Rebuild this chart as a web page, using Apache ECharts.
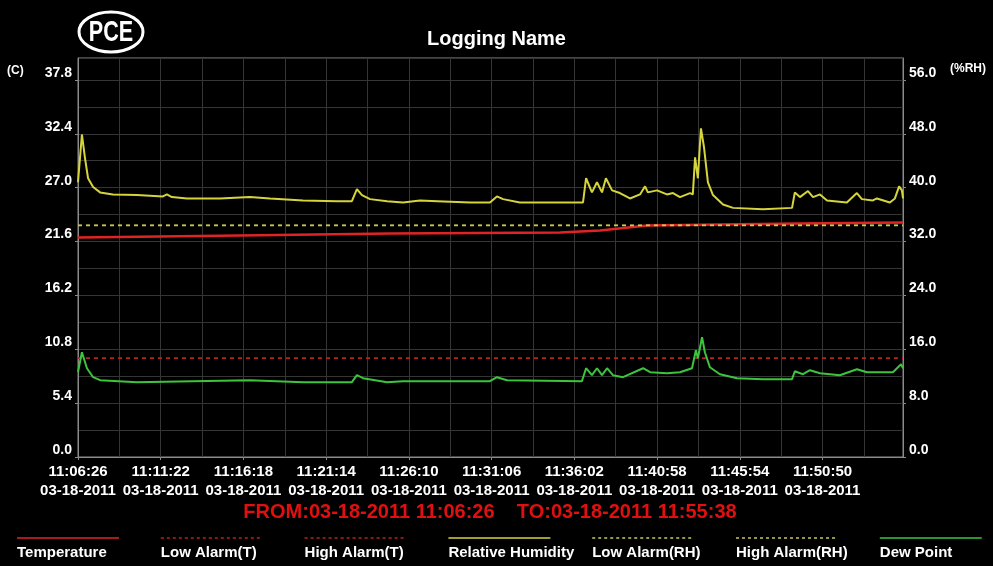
<!DOCTYPE html>
<html>
<head>
<meta charset="utf-8">
<title>Logging Name</title>
<script src="https://cdn.jsdelivr.net/npm/echarts@6/dist/echarts.min.js"></script>
<style>
    html, body { margin: 0; padding: 0; background: #000; }
    #main { width: 993px; height: 566px; }
</style>
</head>
<body>
<div id="main"></div>
<script>
/* 记录信息 */
var logDate = '03-18-2011';
var startTime = '11:06:26';
var endTime = '11:55:38';
var spanSec = 2952;      // 11:06:26 -> 11:55:38
var tickStep = 296;      // 时间刻度间隔(秒)

/* 相对湿度 (%RH), 时间为距开始的秒数 */
var rhTime = [0, 14, 25, 36, 54, 79, 125, 211, 304, 318, 336, 390, 508, 615, 687, 805, 927, 980, 998, 1016,
    1045, 1106, 1163, 1224, 1285, 1403, 1474, 1499, 1521, 1581, 1807, 1818, 1839, 1857, 1875, 1889, 1911, 1939, 1975, 2011,
    2029, 2039, 2072, 2107, 2129, 2154, 2190, 2200, 2208, 2218, 2229, 2240, 2254, 2272, 2308, 2344, 2451, 2555, 2565, 2583,
    2612, 2630, 2655, 2680, 2751, 2787, 2805, 2844, 2859, 2905, 2923, 2938, 2948, 2952];
var rhValue = [40.8, 47.9, 44.4, 41.4, 40.1, 39.3, 39.0, 38.9, 38.7, 39.0, 38.6, 38.4, 38.4, 38.6, 38.4, 38.1, 38.0, 38.0, 39.8, 38.9,
    38.3, 38.0, 37.8, 38.1, 38.0, 37.8, 37.8, 38.7, 38.3, 37.8, 37.8, 41.4, 39.3, 40.8, 39.3, 41.4, 39.6, 39.2, 38.4, 39.0,
    40.2, 39.3, 39.6, 39.0, 39.2, 38.6, 39.2, 39.0, 44.5, 41.4, 48.8, 46.0, 40.8, 38.9, 37.5, 37.0, 36.8, 37.0, 39.3, 38.6,
    39.5, 38.6, 39.0, 38.1, 37.8, 39.2, 38.3, 38.1, 38.4, 37.8, 38.4, 40.2, 39.6, 38.4];

/* 露点 (C) */
var dewTime = [0, 14, 32, 54, 79, 211, 411, 615, 805, 980, 998, 1020, 1106, 1163, 1285, 1474, 1499, 1535, 1803, 1818,
    1839, 1857, 1875, 1893, 1914, 1950, 2022, 2047, 2107, 2154, 2197, 2211, 2218, 2233, 2243, 2261, 2297, 2358, 2451, 2555,
    2565, 2594, 2619, 2655, 2726, 2787, 2823, 2916, 2945, 2952];
var dewValue = [8.5, 10.5, 8.9, 8.0, 7.7, 7.5, 7.6, 7.7, 7.5, 7.5, 8.2, 7.9, 7.5, 7.6, 7.6, 7.6, 8.0, 7.7, 7.6, 8.9,
    8.2, 8.9, 8.2, 8.9, 8.2, 8.0, 8.9, 8.5, 8.4, 8.5, 8.9, 10.7, 9.9, 12.0, 10.5, 9.0, 8.3, 7.9, 7.8, 7.8,
    8.6, 8.3, 8.7, 8.4, 8.2, 8.8, 8.5, 8.5, 9.3, 8.9];

/* 温度 (C) */
var tempTime = [0, 580, 1116, 1725, 1868, 2036, 2297, 2583, 2952];
var tempValue = [22.0, 22.2, 22.4, 22.5, 22.7, 23.2, 23.3, 23.4, 23.5];

/* 报警线 */
var alarmTime = [0, 2952];
var lowAlarmT = [9.9, 9.9];
var highAlarmT = [9.9, 9.9];
var lowAlarmRH = [34.4, 34.4];
var highAlarmRH = [34.4, 34.4];

/* 图例名称 */
var legendNames = ['Temperature', 'Low Alarm(T)', 'High Alarm(T)', 'Relative Humidity', 'Low Alarm(RH)', 'High Alarm(RH)', 'Dew Point'];

var fontFamily = '"Liberation Sans", Arial, sans-serif';
var gridColor = '#353535';

function toSec(s) {
    var p = s.split(':');
    return (+p[0]) * 3600 + (+p[1]) * 60 + (+p[2]);
}
function toClock(sec) {
    var h = Math.floor(sec / 3600), m = Math.floor(sec / 60) % 60, s = sec % 60;
    return [h, m, s].map(function (n) { return (n < 10 ? '0' : '') + n; }).join(':');
}
function pairs(t, v) {
    return t.map(function (x, i) { return [x, v[i]]; });
}

var startSec = toSec(startTime);

/* 各数据系列的线型 */
var seriesDefs = [
    { name: legendNames[0], t: tempTime, v: tempValue, axis: 0, color: '#e02424', type: 'solid', width: 2.5 },
    { name: legendNames[1], t: alarmTime, v: lowAlarmT, axis: 0, color: '#b82020', type: [4, 4], width: 1.5 },
    { name: legendNames[2], t: alarmTime, v: highAlarmT, axis: 0, color: '#b82020', type: [4, 4], width: 1.5 },
    { name: legendNames[3], t: rhTime, v: rhValue, axis: 1, color: '#d6d43c', type: 'solid', width: 2 },
    { name: legendNames[4], t: alarmTime, v: lowAlarmRH, axis: 1, color: '#c8c658', type: [4, 4], width: 1.5 },
    { name: legendNames[5], t: alarmTime, v: highAlarmRH, axis: 1, color: '#c8c658', type: [4, 4], width: 1.5 },
    { name: legendNames[6], t: dewTime, v: dewValue, axis: 0, color: '#3cc43c', type: 'solid', width: 2 }
];

var series = seriesDefs.map(function (d) {
    return {
        name: d.name,
        type: 'line',
        yAxisIndex: d.axis,
        symbol: 'none',
        silent: true,
        animation: false,
        lineStyle: { color: d.color, width: d.width, type: d.type },
        data: pairs(d.t, d.v)
    };
});

/* 底部图例: 线在上, 文字在下 */
var legendGraphics = [];
seriesDefs.forEach(function (d, i) {
    var left = 17 + i * 143.8;
    legendGraphics.push({
        type: 'line',
        shape: { x1: left, y1: 538, x2: left + 102, y2: 538 },
        style: { stroke: d.color, lineWidth: 1.5, lineDash: d.type === 'solid' ? null : [3, 3] }
    });
    legendGraphics.push({
        type: 'text',
        x: left, y: 553,
        style: { text: d.name, fill: '#fff', font: 'bold 15px ' + fontFamily, textVerticalAlign: 'middle' }
    });
});

var chart = echarts.init(document.getElementById('main'));

chart.setOption({
    backgroundColor: '#000',
    animation: false,
    title: {
        text: 'Logging Name',
        left: 'center',
        top: 24,
        textStyle: { color: '#fff', fontSize: 20, fontWeight: 'bold', fontFamily: fontFamily }
    },
    grid: { left: 78, right: 90, top: 58, bottom: 109, show: true, borderColor: '#8a8a8a', borderWidth: 1 },
    xAxis: {
        type: 'value',
        min: 0,
        max: spanSec,
        interval: tickStep,
        axisLine: { lineStyle: { color: '#8a8a8a' } },
        axisTick: { show: true, length: 3, lineStyle: { color: '#8a8a8a' } },
        axisLabel: {
            color: '#fff',
            fontWeight: 'bold',
            fontSize: 15,
            fontFamily: fontFamily,
            lineHeight: 19,
            margin: 5,
            showMaxLabel: false,
            formatter: function (v) { return toClock(startSec + v) + '\n' + logDate; }
        },
        splitLine: { show: true, lineStyle: { color: gridColor } },
        minorTick: { show: false, splitNumber: 2 },
        minorSplitLine: { show: true, lineStyle: { color: gridColor } }
    },
    yAxis: [{
        type: 'value',
        position: 'left',
        min: 0,
        max: 40,
        interval: 5.4,
        axisLine: { show: true, lineStyle: { color: '#8a8a8a' } },
        axisTick: { show: true, length: 3, lineStyle: { color: '#8a8a8a' } },
        axisLabel: {
            color: '#fff', fontWeight: 'bold', fontSize: 14, fontFamily: fontFamily,
            margin: 6, verticalAlign: 'bottom', showMaxLabel: false,
            formatter: function (v) { return v.toFixed(1); }
        },
        splitLine: { show: true, lineStyle: { color: gridColor } },
        minorTick: { show: false, splitNumber: 2 },
        minorSplitLine: { show: true, lineStyle: { color: gridColor } }
    }, {
        type: 'value',
        position: 'right',
        min: 0,
        max: 40 / 5.4 * 8,
        interval: 8,
        axisLine: { show: true, lineStyle: { color: '#8a8a8a' } },
        axisTick: { show: true, length: 3, lineStyle: { color: '#8a8a8a' } },
        axisLabel: {
            color: '#fff', fontWeight: 'bold', fontSize: 14, fontFamily: fontFamily,
            margin: 6, verticalAlign: 'bottom', showMaxLabel: false,
            formatter: function (v) { return v.toFixed(1); }
        },
        splitLine: { show: false }
    }],
    graphic: [
        // PCE 标志
        {
            type: 'ellipse',
            shape: { cx: 111, cy: 32, rx: 32, ry: 20 },
            style: { fill: '#000', stroke: '#fff', lineWidth: 3 }
        },
        {
            type: 'text',
            x: 111, y: 33,
            scaleX: 0.72,
            style: {
                text: 'PCE', fill: '#fff',
                font: 'bold 30px ' + fontFamily,
                textAlign: 'center', textVerticalAlign: 'middle'
            }
        },
        // 轴单位
        { type: 'text', x: 7, y: 71, style: { text: '(C)', fill: '#fff', font: 'bold 12px ' + fontFamily, textVerticalAlign: 'middle' } },
        { type: 'text', x: 950, y: 69, style: { text: '(%RH)', fill: '#fff', font: 'bold 12px ' + fontFamily, textVerticalAlign: 'middle' } },
        // 记录时间范围
        {
            type: 'text',
            x: 490, y: 512,
            style: {
                text: 'FROM:' + logDate + ' ' + startTime + '    TO:' + logDate + ' ' + endTime,
                fill: '#e01010', font: 'bold 20px ' + fontFamily,
                textAlign: 'center', textVerticalAlign: 'middle'
            }
        }
    ].concat(legendGraphics),
    series: series
});
</script>
</body>
</html>
